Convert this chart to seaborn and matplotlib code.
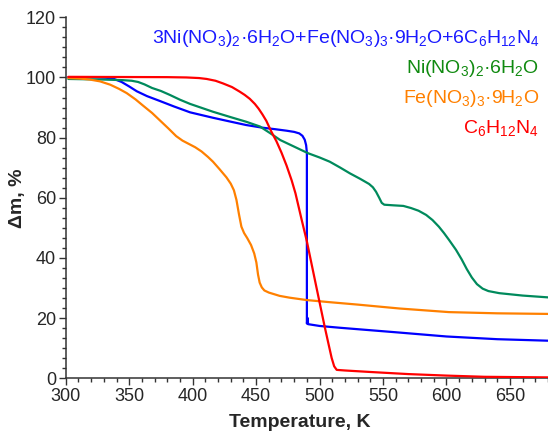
import numpy as np
import pandas as pd
import matplotlib
matplotlib.use("Agg")
import matplotlib.pyplot as plt
from matplotlib.ticker import MultipleLocator, AutoMinorLocator
import seaborn as sns

# Thermogravimetric curves: temperature (K) vs mass change (%)
T_mix = [302, 320, 332, 338, 344, 350, 356, 364, 374, 385, 398, 416, 430, 442, 455,
         465, 474, 480, 484, 486.5, 488.3, 489.4, 490.0, 490.0, 490.7, 490.9, 500,
         516, 563, 600, 640, 680]
m_mix = [100.1, 100.1, 99.9, 99.5, 98.5, 97.0, 95.4, 93.8, 92.2, 90.4, 88.4, 86.6,
         85.3, 84.2, 83.3, 82.8, 82.3, 81.9, 81.4, 80.6, 79.3, 77.5, 75.0, 18.2, 20.0,
         18.0, 17.4, 16.8, 15.2, 13.9, 13.0, 12.5]

T_ni = [302, 330, 345, 352, 357, 362, 368, 375, 382, 390, 398, 407, 416, 430, 442,
        453, 461, 469, 480, 491, 500, 508, 516, 524, 532, 539, 542, 544.5, 547, 549,
        551, 558, 566, 572, 578, 584, 589, 594, 598, 602, 607.5, 612, 616, 620, 624,
        628.5, 633, 641.6, 660, 680]
m_ni = [99.5, 99.3, 99.1, 98.9, 98.5, 97.7, 96.5, 95.5, 94.2, 92.6, 91.2, 89.9, 88.6,
        86.8, 85.3, 83.7, 81.5, 79.2, 77.0, 74.8, 73.4, 72.0, 70.1, 68.1, 66.3, 64.6,
        63.5, 62.0, 60.0, 58.3, 57.7, 57.5, 57.3, 56.6, 55.7, 54.3, 52.6, 50.4, 48.3,
        46.0, 42.7, 39.5, 36.3, 33.5, 31.3, 29.8, 29.0, 28.3, 27.5, 26.9]

T_fe = [302, 312, 319, 327, 335, 342, 348, 355, 361, 368, 374, 381, 387, 392, 397,
        402, 407, 412, 416, 421, 426.6, 430, 432.5, 434.5, 436.5, 438.4, 440.5, 443,
        446, 448.5, 450.2, 451.5, 452.8, 454.5, 456.5, 460, 468.5, 476.4, 490, 508,
        530, 563, 602, 640, 680]
m_fe = [99.8, 99.6, 99.3, 98.7, 97.6, 96.2, 94.8, 92.7, 90.6, 88.2, 85.8, 83.0, 80.5,
        79.0, 77.9, 76.8, 75.4, 73.6, 72.0, 69.6, 66.8, 64.7, 62.5, 59.3, 54.5, 50.4,
        48.3, 46.6, 44.3, 41.5, 38.5, 34.5, 31.8, 30.2, 29.2, 28.5, 27.4, 26.8, 26.0,
        25.3, 24.5, 23.2, 22.0, 21.6, 21.4]

T_hmta = [302, 380, 395, 405, 411, 418, 424, 431, 437, 441, 445, 449, 452, 455, 458,
          462, 466, 470, 474, 478, 481, 486, 490, 497.4, 504, 507, 509.5, 511.5,
          513.5, 520, 540, 570, 600, 630, 680]
m_hmta = [100.2, 100.1, 100.0, 99.8, 99.5, 98.9, 98.0, 96.8, 95.3, 94.2, 92.9, 91.2,
          89.6, 87.7, 85.6, 82.0, 78.8, 75.0, 70.7, 65.8, 61.5, 52.5, 45.5, 30.5, 17.2,
          11.5, 6.8, 4.0, 2.8, 2.6, 2.1, 1.4, 0.9, 0.5, 0.3]

labels = [
    r"3Ni(NO$_3$)$_2$·6H$_2$O+Fe(NO$_3$)$_3$·9H$_2$O+6C$_6$H$_{12}$N$_4$",
    r"Ni(NO$_3$)$_2$·6H$_2$O",
    r"Fe(NO$_3$)$_3$·9H$_2$O",
    r"C$_6$H$_{12}$N$_4$",
]
line_colors = ["#0000ff", "#008a5c", "#ff8000", "#ff0000"]
text_colors = ["#1a1aff", "#108a10", "#ff8000", "#ff0000"]

sns.set_style("ticks")
plt.rcParams["font.family"] = ["Liberation Sans", "DejaVu Sans"]
plt.rcParams["mathtext.fontset"] = "custom"
plt.rcParams["mathtext.rm"] = "Liberation Sans"
plt.rcParams["mathtext.it"] = "Liberation Sans:italic"
plt.rcParams["mathtext.bf"] = "Liberation Sans:bold"
plt.rcParams["mathtext.default"] = "regular"

fig = plt.figure(figsize=(5.48, 4.32), dpi=100)
ax = fig.add_axes([0.12, 0.1243, 0.88, 0.8357])

series = [(T_mix, m_mix), (T_ni, m_ni), (T_fe, m_fe), (T_hmta, m_hmta)]
draw_order = [1, 2, 0, 3]
for i in draw_order:
    T, m = series[i]
    df = pd.DataFrame({"T": T, "m": m})
    sns.lineplot(data=df, x="T", y="m", ax=ax, color=line_colors[i], lw=1.6,
                 sort=False, estimator=None, zorder=3 + i)

ax.set_xlim(300, 680)
ax.set_ylim(0, 120)
ax.xaxis.set_major_locator(MultipleLocator(50))
ax.xaxis.set_minor_locator(AutoMinorLocator(5))
ax.yaxis.set_major_locator(MultipleLocator(20))
ax.yaxis.set_minor_locator(AutoMinorLocator(6))
ax.tick_params(axis="both", which="major", direction="out", length=5, width=1,
               labelsize=13, color="#333333", pad=2)
ax.tick_params(axis="both", which="minor", direction="out", length=3, width=1,
               color="#333333")
for side in ("top", "right"):
    ax.spines[side].set_visible(False)
for side in ("left", "bottom"):
    ax.spines[side].set_linewidth(1.1)
    ax.spines[side].set_color("#333333")

ax.set_xlabel("Temperature, K", fontsize=14, fontweight="bold")
ax.xaxis.set_label_coords(0.486, -0.100)
ax.set_ylabel("Δm, %", fontsize=14, fontweight="bold", labelpad=-0.5)

# Coloured text legend, right aligned in the upper corner
ys = [43.3, 73.3, 103.3, 133.3]
for lab, c, yp in zip(labels, text_colors, ys):
    fig.text(539 / 548, 1 - yp / 432, lab, color=c, fontsize=14,
             ha="right", va="baseline")

fig.savefig("out.png", dpi=100)
